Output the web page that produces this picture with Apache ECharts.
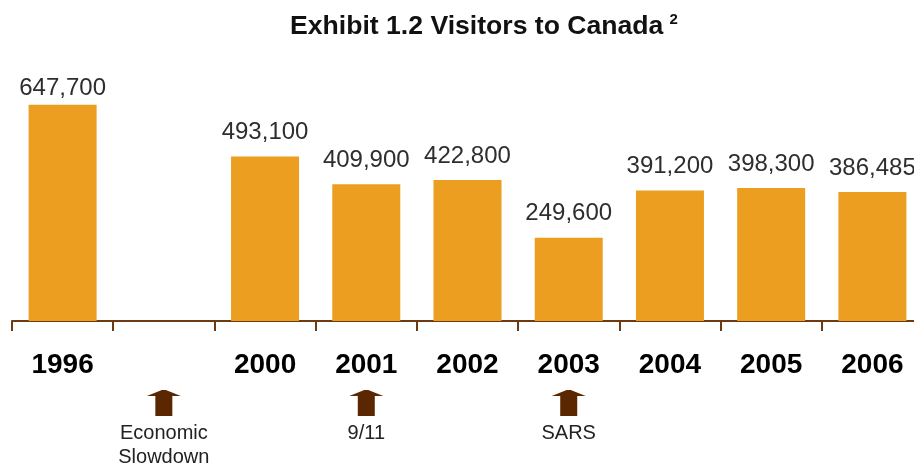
<!DOCTYPE html>
<html>
<head>
<meta charset="utf-8">
<script src="https://cdn.jsdelivr.net/npm/echarts@6/dist/echarts.min.js"></script>
<style>
  html, body { margin: 0; padding: 0; background: #fff; }
  #chart { width: 914px; height: 468px; }
</style>
</head>
<body>
<div id="chart"></div>
<script>
// Visitor counts by year; the blank slot marks the gap between 1996 and 2000
const years = ['1996', '', '2000', '2001', '2002', '2003', '2004', '2005', '2006'];
const visitors = [647700, null, 493100, 409900, 422800, 249600, 391200, 398300, 386485];

// Events flagged under the axis (index of the slot they sit under)
const eventSlots = [1, 3, 5];
const eventNames = ['Economic\nSlowdown', '9/11', 'SARS'];

const BAR = '#eb9e1f';
const BROWN = '#6e3a12';
const ARROW = '#5b2700';
const SANS = '"Liberation Sans", Arial, Helvetica, sans-serif';

const chart = echarts.init(document.getElementById('chart'));

// The tallest bar keeps its label a little tighter so it fits under the title
const barData = visitors.map((v, i) =>
  i === 0 ? { value: v, label: { distance: 4 } } : v
);

chart.setOption({
  animation: false,
  title: {
    left: 285,
    top: 6,
    text: '{t|Exhibit 1.2 Visitors to Canada}{s|2}',
    textStyle: {
      rich: {
        t: { fontFamily: SANS, fontWeight: 'bold', fontSize: 26.6, color: '#111', lineHeight: 32 },
        s: { fontFamily: SANS, fontSize: 15, color: '#111', verticalAlign: 'top', padding: [1, 0, 0, 6], lineHeight: 30 }
      }
    }
  },
  // the last slot runs a little past the right edge of the canvas
  grid: { left: 12, top: 54, bottom: 147, width: 911, outerBoundsMode: 'none' },
  xAxis: {
    type: 'category',
    data: years,
    axisLine: { show: true, lineStyle: { color: BROWN, width: 2 } },
    axisTick: { show: true, length: 10, interval: 0, lineStyle: { color: BROWN, width: 2 } },
    axisLabel: {
      interval: 0,
      margin: 30,
      fontFamily: SANS,
      fontWeight: 'bold',
      fontSize: 28,
      color: '#000'
    }
  },
  yAxis: { type: 'value', min: 0, max: 800000, show: false },
  series: [
    {
      type: 'bar',
      data: barData,
      barWidth: 68,
      itemStyle: { color: BAR },
      label: {
        show: true,
        position: 'top',
        distance: 12,
        fontFamily: SANS,
        fontSize: 24,
        color: '#2e2e2e',
        formatter: p => p.value.toLocaleString('en-US')
      }
    },
    {
      type: 'custom',
      clip: false,
      silent: true,
      data: eventSlots.map(s => [s, 0]),
      renderItem: (params, api) => {
        const base = api.coord([api.value(0), 0]);
        const x = base[0];
        const y = base[1];
        return {
          type: 'group',
          children: [
            {
              type: 'polygon',
              shape: {
                points: [
                  [x - 2, y + 69],
                  [x + 2, y + 69],
                  [x + 17, y + 75],
                  [x + 8.5, y + 75],
                  [x + 8.5, y + 95],
                  [x - 8.5, y + 95],
                  [x - 8.5, y + 75],
                  [x - 17, y + 75]
                ]
              },
              style: { fill: ARROW }
            },
            {
              type: 'text',
              style: {
                text: eventNames[params.dataIndex],
                x: x,
                y: y + 100,
                align: 'center',
                verticalAlign: 'top',
                fontFamily: SANS,
                fontSize: 20,
                lineHeight: 24,
                fill: '#222'
              }
            }
          ]
        };
      }
    }
  ]
});
</script>
</body>
</html>
